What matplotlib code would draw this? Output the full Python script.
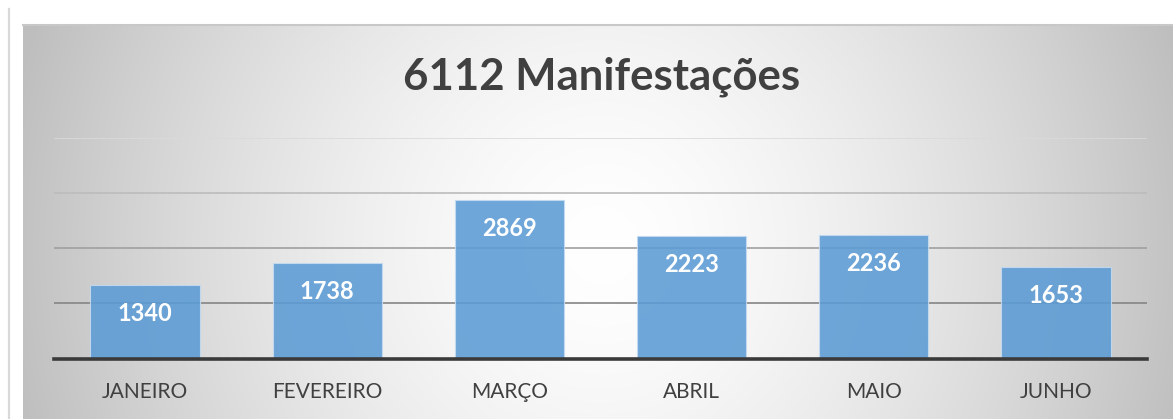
import numpy as np
import matplotlib
matplotlib.use("Agg")
import matplotlib.pyplot as plt
from matplotlib.lines import Line2D

# Data
months = ["JANEIRO", "FEVEREIRO", "MARÇO", "ABRIL", "MAIO", "JUNHO"]
counts = [1340, 1738, 2869, 2223, 2236, 1653]
title = "6112 Manifestações"
grid_ticks = [1000, 2000, 3000, 4000]

plt.rcParams['font.family'] = ['Lato', 'DejaVu Sans']

W, H = 1173, 419
fig = plt.figure(figsize=(W / 100, H / 100), dpi=100)
fig.patch.set_facecolor('white')

# radial grey background of the chart box
bg = fig.add_axes([23 / W, 0, (W - 23) / W, (H - 25) / H])
gx, gy = np.meshgrid(np.arange(W - 23), np.arange(H - 25))
r = np.sqrt(((gx - 578) / 575.0) ** 2 + ((gy - 220) / 600.0) ** 2)
shade = np.clip(255 - 60 * r ** 1.5, 190, 255) / 255.0
bg.imshow(np.dstack([shade] * 3), aspect='auto', interpolation='bilinear')
bg.set_axis_off()

# borders
fig.add_artist(Line2D([9 / W, 9 / W], [0, (H - 9) / H], color='#d9d9d9', lw=1.6))
fig.add_artist(Line2D([23 / W, 1], [(H - 25.5) / H] * 2, color='#c8c8c8', lw=1.5))

ax = fig.add_axes([54 / W, (H - 358.5) / H, 1093 / W, 220.5 / H])
ax.set_facecolor('none')
x = np.arange(len(months))
ax.set_xlim(-0.5, len(months) - 0.5)
ax.set_ylim(0, 4000)

# gridlines (they fade towards the top)
grid_colors = ['#858585', '#a0a0a0', '#bcbcbc', '#dadada']
for t, c in zip(grid_ticks, grid_colors):
    ax.axhline(t, color=c, lw=1.2, zorder=1)

bars = ax.bar(x, counts, width=0.6, color='#5b9bd5', alpha=0.88,
              edgecolor='#c5dbf0', linewidth=0.8, zorder=2)
ax.axhline(0, color='#3a3a3a', lw=2.6, zorder=3, clip_on=False)

for b, v in zip(bars, counts):
    ax.annotate(str(v), (b.get_x() + b.get_width() / 2, v),
                xytext=(0, -20.5), textcoords='offset points',
                ha='center', va='center', color='white',
                fontsize=17, fontweight='bold', zorder=4)

ax.set_xticks(x)
ax.set_xticklabels(months, fontsize=15, color='#404040')
ax.tick_params(axis='x', length=0, pad=17)
ax.set_yticks([])
for s in ax.spines.values():
    s.set_visible(False)

fig.text(601.5 / W, (H - 77) / H, title, ha='center', va='center',
         fontsize=31.5, fontweight='bold', color='#404040')

fig.savefig('out.png', dpi=100)
